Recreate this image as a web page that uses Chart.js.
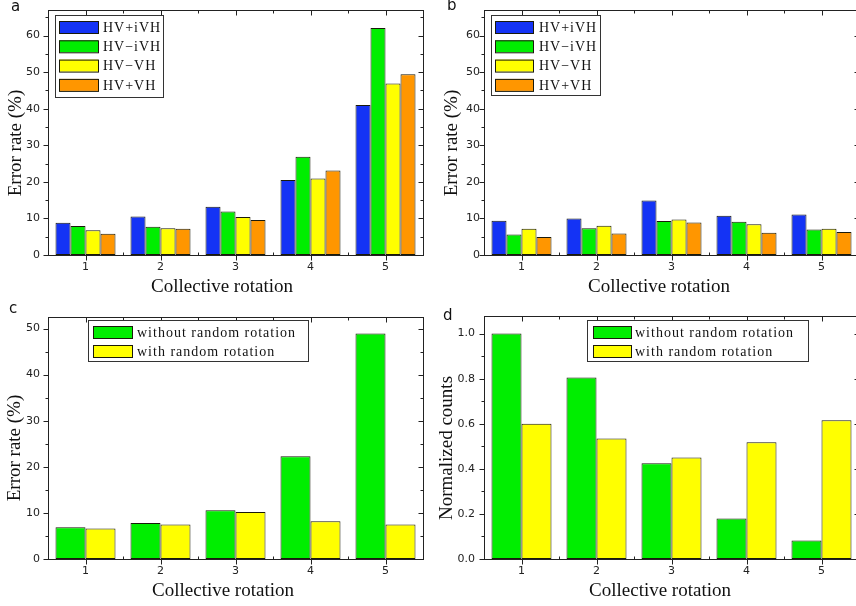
<!DOCTYPE html>
<html>
<head>
<meta charset="utf-8">
<script src="https://cdn.jsdelivr.net/npm/chart.js@4.4.0/dist/chart.umd.min.js"></script>
<style>
  html, body { margin: 0; padding: 0; background: #fff; overflow: hidden; width: 856px; height: 606px; }
  canvas { position: absolute; }
</style>
</head>
<body>
<canvas id="chartA" width="430" height="300" style="left:0;top:0"></canvas>
<canvas id="chartB" width="430" height="300" style="left:430px;top:0"></canvas>
<canvas id="chartC" width="430" height="306" style="left:0;top:300px"></canvas>
<canvas id="chartD" width="430" height="306" style="left:430px;top:300px"></canvas>
<script>
// data
const rotations = ['1', '2', '3', '4', '5'];
const polNames = ['HV+iVH', 'HV\u2212iVH', 'HV\u2212VH', 'HV+VH'];
const randNames = ['without random rotation', 'with random rotation'];

// panel a
const aPlusIVH  = [8.8, 10.5, 13.2, 20.5, 41.0];
const aMinusIVH = [7.9, 7.7, 11.9, 26.9, 62.1];
const aMinusVH  = [6.8, 7.3, 10.4, 20.9, 46.9];
const aPlusVH   = [5.8, 7.2, 9.6, 23.1, 49.4];

// panel b
const bPlusIVH  = [9.4, 10.0, 14.9, 10.7, 11.1];
const bMinusIVH = [5.6, 7.3, 9.3, 9.1, 7.0];
const bMinusVH  = [7.2, 8.0, 9.7, 8.4, 7.2];
const bPlusVH   = [4.9, 5.9, 8.9, 6.1, 6.3];

// panel c
const cWithout = [6.9, 7.8, 10.6, 22.3, 48.9];
const cWith    = [6.6, 7.5, 10.2, 8.2, 7.5];

// panel d
const dWithout = [1.0, 0.805, 0.425, 0.18, 0.082];
const dWith    = [0.60, 0.535, 0.45, 0.518, 0.615];

const BLUE = '#1433f5', GREEN = '#00ee00', YELLOW = '#ffff00', ORANGE = '#ff9600';
const EDGE = '#1a1a0a';

// frame, ticks on all four sides, axis titles, legend box and panel letter
const framePlugin = {
  id: 'frame',
  afterDraw(chart, args, opts) {
    const { ctx, chartArea: a, scales: { x, y } } = chart;
    ctx.save();
    ctx.strokeStyle = '#222';
    ctx.lineWidth = 1;
    const L = Math.round(a.left) + 0.5, R = Math.round(a.right) + 0.5;
    const T = Math.round(a.top) + 0.5, B = Math.round(a.bottom) + 0.5;
    ctx.strokeRect(L, T, R - L, B - T);
    ctx.beginPath();
    const n = Math.floor(y.max / opts.minor + 1e-6);
    for (let k = 0; k <= n; k++) {
      const v = k * opts.minor;
      const py = Math.round(y.getPixelForValue(v)) + 0.5;
      const r = v / opts.major;
      const len = Math.abs(r - Math.round(r)) < 1e-6 ? 5 : 3;
      ctx.moveTo(L - len, py); ctx.lineTo(L, py);
      ctx.moveTo(R, py); ctx.lineTo(R - len, py);
    }
    const cnt = chart.data.labels.length;
    for (let i = 0; i < cnt; i++) {
      const px = Math.round(x.getPixelForValue(i)) + 0.5;
      ctx.moveTo(px, B); ctx.lineTo(px, B + 5);
      ctx.moveTo(px, T); ctx.lineTo(px, T + 5);
      if (i > 0) {
        const bx = Math.round((x.getPixelForValue(i) + x.getPixelForValue(i - 1)) / 2) + 0.5;
        ctx.moveTo(bx, B); ctx.lineTo(bx, B - 3);
        ctx.moveTo(bx, T); ctx.lineTo(bx, T + 3);
      }
    }
    ctx.stroke();

    // axis titles
    ctx.fillStyle = '#111';
    ctx.font = '19px "Liberation Serif"';
    ctx.textAlign = 'center';
    ctx.textBaseline = 'middle';
    ctx.fillText(opts.xtitle, opts.xt[0], opts.xt[1]);
    ctx.save();
    ctx.translate(opts.yt[0], opts.yt[1]);
    ctx.rotate(-Math.PI / 2);
    ctx.fillText(opts.ytitle, 0, 0);
    ctx.restore();
    ctx.textAlign = 'left';

    // legend
    const lg = opts.legend;
    ctx.fillStyle = '#fff';
    ctx.fillRect(lg.x, lg.y, lg.w, lg.h);
    ctx.strokeStyle = '#333';
    ctx.strokeRect(lg.x + 0.5, lg.y + 0.5, lg.w, lg.h);
    ctx.font = '14px "Liberation Serif"';
    chart.data.datasets.forEach((ds, i) => {
      const cy = lg.row0 + i * lg.step;
      ctx.fillStyle = ds.backgroundColor;
      ctx.fillRect(lg.sx, cy - 6, lg.sw, 12);
      ctx.strokeStyle = EDGE;
      ctx.strokeRect(lg.sx + 0.5, cy - 6 + 0.5, lg.sw, 12);
      ctx.fillStyle = '#111';
      ctx.letterSpacing = '1px';
      ctx.fillText(ds.label, lg.tx, cy + 1);
      ctx.letterSpacing = '0px';
    });

    // panel letter
    ctx.fillStyle = '#111';
    ctx.textBaseline = 'alphabetic';
    ctx.font = '15px "DejaVu Sans"';
    ctx.fillText(opts.letter, opts.lx, opts.ly);
    ctx.restore();
  }
};

function makeChart(id, datasets, cfg) {
  return new Chart(document.getElementById(id), {
    type: 'bar',
    data: { labels: rotations, datasets: datasets },
    plugins: [framePlugin],
    options: {
      responsive: false,
      animation: false,
      layout: { padding: { top: cfg.top, right: cfg.right, left: 0, bottom: 0 } },
      datasets: {
        bar: { barPercentage: 1, categoryPercentage: 0.8, borderWidth: 1, borderColor: EDGE, borderSkipped: false }
      },
      plugins: {
        legend: { display: false },
        tooltip: { enabled: false },
        frame: cfg.frame
      },
      scales: {
        x: {
          type: 'category',
          offset: true,
          grid: { display: false, drawTicks: false },
          border: { display: false },
          ticks: { color: '#222', font: { family: 'DejaVu Sans', size: 11 }, padding: 6, maxRotation: 0 },
          afterFit(s) { s.height = cfg.xh; s.paddingLeft = 0; s.paddingRight = 0; }
        },
        y: {
          min: 0,
          max: cfg.max,
          grid: { display: false, drawTicks: false },
          border: { display: false },
          ticks: {
            color: '#222',
            font: { family: 'DejaVu Sans', size: 11 },
            padding: cfg.ypad,
            callback: cfg.fmt
          },
          afterBuildTicks(s) {
            const ticks = [];
            for (let k = 0; k * cfg.step <= cfg.max + 1e-9; k++) ticks.push({ value: +(k * cfg.step).toFixed(6) });
            s.ticks = ticks;
          },
          afterFit(s) { s.width = cfg.yw; s.paddingTop = 0; s.paddingBottom = 0; }
        }
      }
    }
  });
}

function bar(label, data, color) {
  return { label: label, data: data, backgroundColor: color };
}

makeChart('chartA', [
  bar(polNames[0], aPlusIVH, BLUE),
  bar(polNames[1], aMinusIVH, GREEN),
  bar(polNames[2], aMinusVH, YELLOW),
  bar(polNames[3], aPlusVH, ORANGE)
], {
  top: 10, right: 7, xh: 45, yw: 48, max: 67, step: 10, ypad: 8,
  fmt: v => v,
  frame: { minor: 5, major: 10, letter: 'a', lx: 11, ly: 11,
    xtitle: 'Collective rotation', xt: [222, 287], ytitle: 'Error rate (%)', yt: [16, 143],
    legend: { x: 55, y: 15, w: 108, h: 82, sx: 59, sw: 39, row0: 27, step: 19.3, tx: 103 } }
});

makeChart('chartB', [
  bar(polNames[0], bPlusIVH, BLUE),
  bar(polNames[1], bMinusIVH, GREEN),
  bar(polNames[2], bMinusVH, YELLOW),
  bar(polNames[3], bPlusVH, ORANGE)
], {
  top: 10, right: 1, xh: 45, yw: 54, max: 67, step: 10, ypad: 4,
  fmt: v => v,
  frame: { minor: 5, major: 10, letter: 'b', lx: 17, ly: 10,
    xtitle: 'Collective rotation', xt: [229, 287], ytitle: 'Error rate (%)', yt: [22, 143],
    legend: { x: 61, y: 15, w: 109, h: 80, sx: 65, sw: 38, row0: 27, step: 19.3, tx: 109 } }
});

makeChart('chartC', [
  bar(randNames[0], cWithout, GREEN),
  bar(randNames[1], cWith, YELLOW)
], {
  top: 17, right: 7, xh: 47, yw: 48, max: 52.5, step: 10, ypad: 8,
  fmt: v => v,
  frame: { minor: 5, major: 10, letter: 'c', lx: 9, ly: 13,
    xtitle: 'Collective rotation', xt: [223, 291], ytitle: 'Error rate (%)', yt: [15, 148],
    legend: { x: 88, y: 20, w: 220, h: 41, sx: 93, sw: 39, row0: 32, step: 19, tx: 137 } }
});

makeChart('chartD', [
  bar(randNames[0], dWithout, GREEN),
  bar(randNames[1], dWith, YELLOW)
], {
  top: 16, right: 1, xh: 47, yw: 54, max: 1.078, step: 0.2, ypad: 9,
  fmt: v => v.toFixed(1),
  frame: { minor: 0.1, major: 0.2, letter: 'd', lx: 13, ly: 20,
    xtitle: 'Collective rotation', xt: [230, 291], ytitle: 'Normalized counts', yt: [17, 148],
    legend: { x: 157, y: 20, w: 221, h: 41, sx: 163, sw: 38, row0: 32, step: 19, tx: 205 } }
});
</script>
</body>
</html>
